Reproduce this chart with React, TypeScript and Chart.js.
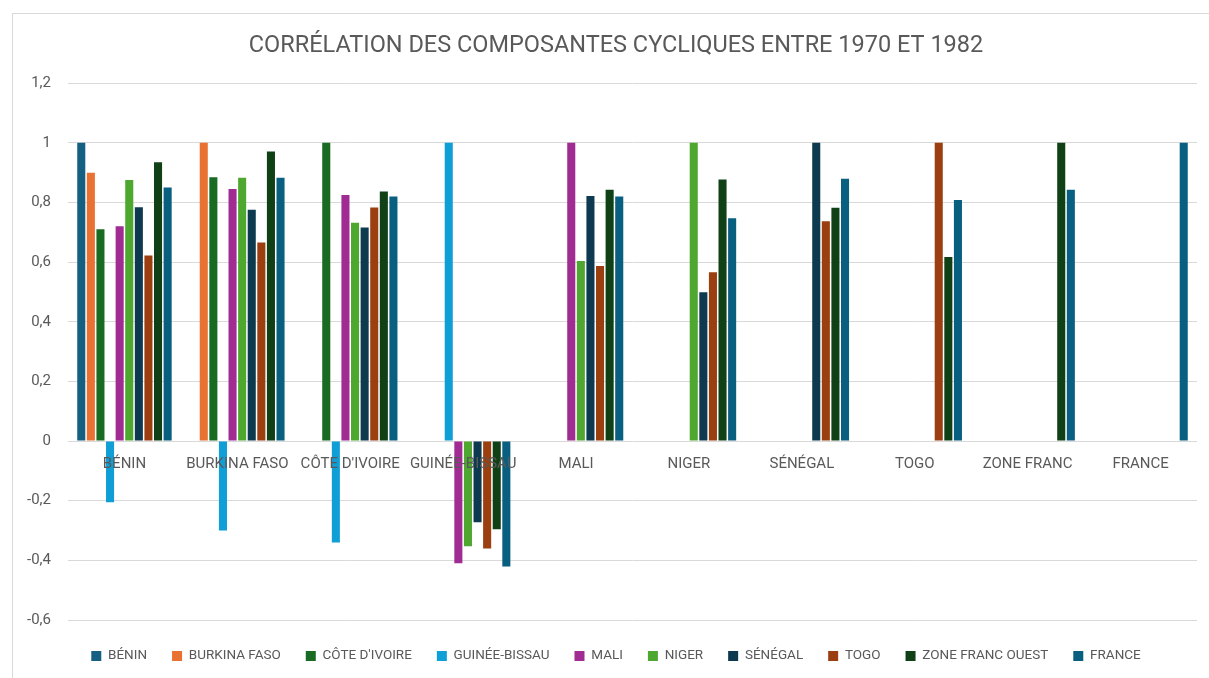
import React, { useEffect, useRef } from 'react';
import { Chart, registerables } from 'chart.js';

Chart.register(...registerables);

const TITLE = 'CORRÉLATION DES COMPOSANTES CYCLIQUES ENTRE 1970 ET 1982';

const categories = ['BÉNIN', 'BURKINA FASO', "CÔTE D'IVOIRE", 'GUINÉE-BISSAU', 'MALI', 'NIGER', 'SÉNÉGAL', 'TOGO', 'ZONE FRANC', 'FRANCE'];
const seriesNames = ['BÉNIN', 'BURKINA FASO', "CÔTE D'IVOIRE", 'GUINÉE-BISSAU', 'MALI', 'NIGER', 'SÉNÉGAL', 'TOGO', 'ZONE FRANC OUEST', 'FRANCE'];

const benin = [1, null, null, null, null, null, null, null, null, null];
const burkinaFaso = [0.9, 1, null, null, null, null, null, null, null, null];
const coteIvoire = [0.71, 0.885, 1, null, null, null, null, null, null, null];
const guineeBissau = [-0.205, -0.3, -0.34, 1, null, null, null, null, null, null];
const mali = [0.72, 0.845, 0.825, -0.41, 1, null, null, null, null, null];
const niger = [0.875, 0.883, 0.732, -0.353, 0.604, 1, null, null, null, null];
const senegal = [0.784, 0.776, 0.716, -0.272, 0.822, 0.499, 1, null, null, null];
const togo = [0.622, 0.666, 0.783, -0.36, 0.587, 0.566, 0.737, 1, null, null];
const zoneFrancOuest = [0.935, 0.971, 0.837, -0.296, 0.843, 0.877, 0.782, 0.617, 1, null];
const france = [0.85, 0.883, 0.82, -0.421, 0.82, 0.747, 0.88, 0.808, 0.843, 1];

const seriesValues = [benin, burkinaFaso, coteIvoire, guineeBissau, mali, niger, senegal, togo, zoneFrancOuest, france];
const seriesColors = ['#156082', '#E97132', '#196B24', '#0F9ED5', '#A02B93', '#4EA72E', '#0D3A4F', '#9C3F10', '#0F4016', '#095F80'];

const Y_MIN = -0.6;
const Y_MAX = 1.2;
const Y_STEP = 0.2;

const TEXT = '#595959';
const FONT = 'Roboto';

export default function App() {
  const ref = useRef<HTMLCanvasElement | null>(null);

  useEffect(() => {
    if (!ref.current) return;
    const chart = new Chart(ref.current, {
      type: 'bar',
      data: {
        labels: categories,
        datasets: seriesNames.map((name, i) => ({
          label: name,
          data: seriesValues[i],
          backgroundColor: seriesColors[i],
          borderWidth: 0,
          categoryPercentage: 0.85,
          barPercentage: 0.84,
        })),
      },
      options: {
        responsive: false,
        animation: false,
        layout: { padding: { left: 35, right: 12, top: 0, bottom: 5.25 } },
        plugins: {
          title: {
            display: true,
            text: TITLE,
            color: TEXT,
            font: { family: FONT, size: 23.5, weight: 'normal' },
            padding: { top: 32, bottom: 23 },
          },
          legend: {
            position: 'bottom',
            title: {
              display: true,
              text: '',
              font: { size: 1, lineHeight: 1 },
              padding: { top: 3.25, bottom: 0 },
            },
            labels: {
              boxWidth: 10,
              boxHeight: 10,
              padding: 25,
              color: TEXT,
              font: { family: FONT, size: 13.5 },
            },
          },
          tooltip: { enabled: false },
        },
        scales: {
          x: {
            position: { y: 0 },
            grid: { display: false },
            border: { display: false },
            ticks: {
              z: 1,
              color: TEXT,
              font: { family: FONT, size: 15 },
              padding: 6,
              maxRotation: 0,
              autoSkip: false,
            },
          },
          y: {
            min: Y_MIN,
            max: Y_MAX,
            afterFit: (s: any) => {
              s.width = 33;
              s._computeLabelArea = () => undefined;
            },
            grid: { color: '#D9D9D9', lineWidth: 1, drawTicks: false },
            border: { display: false },
            ticks: {
              stepSize: Y_STEP,
              color: TEXT,
              padding: 17,
              font: { family: FONT, size: 15 },
              callback: (v: any) => {
                const r = Math.round(Number(v) * 10) / 10;
                return String(r).replace('.', ',');
              },
            },
          },
        },
      },
    });
    return () => chart.destroy();
  }, []);

  return (
    <div style={{ position: 'fixed', left: 0, top: 0, width: 1209, height: 678, overflow: 'hidden', background: '#fff' }}>
      <div style={{ position: 'absolute', left: 12, top: 13, width: 1300, height: 800, border: '1px solid #D9D9D9', boxSizing: 'border-box' }} />
      <canvas ref={ref} width={1209} height={678} style={{ position: 'absolute', left: 0, top: 0 }} />
    </div>
  );
}
